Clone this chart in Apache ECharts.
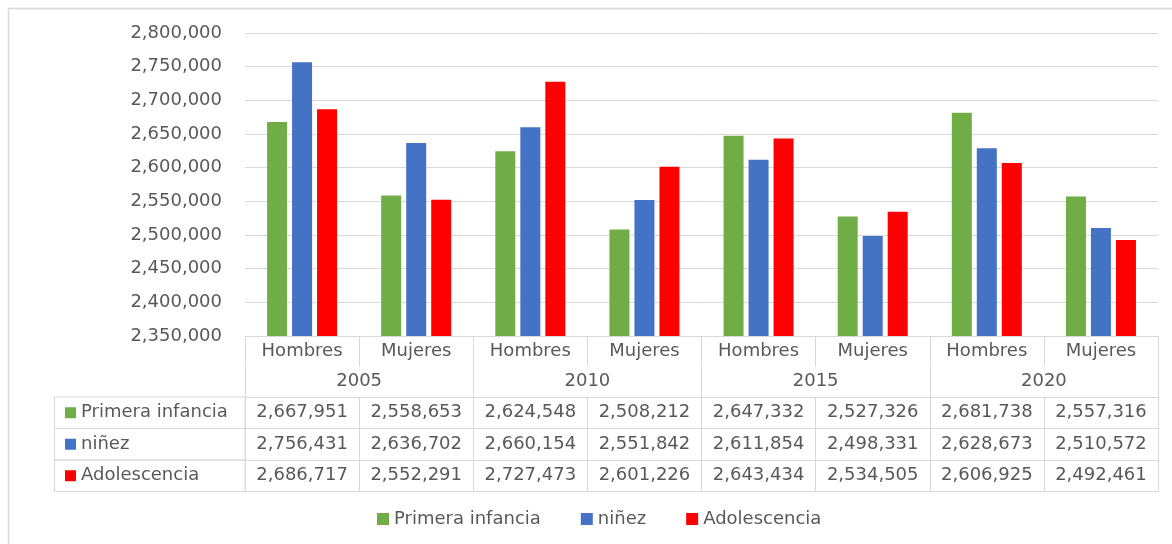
<!DOCTYPE html>
<html>
<head>
<meta charset="utf-8">
<script src="https://cdn.jsdelivr.net/npm/echarts@6/dist/echarts.min.js"></script>
<style>
  html, body { margin: 0; padding: 0; background: #fff; }
  #chart { width: 1172px; height: 544px; }
</style>
</head>
<body>
<div id="chart"></div>
<script>
// data
const sexes = ['Hombres', 'Mujeres', 'Hombres', 'Mujeres', 'Hombres', 'Mujeres', 'Hombres', 'Mujeres'];
const years = ['2005', '2010', '2015', '2020'];
const seriesNames = ['Primera infancia', 'niñez', 'Adolescencia'];
const primeraInfancia = [2667951, 2558653, 2624548, 2508212, 2647332, 2527326, 2681738, 2557316];
const ninez = [2756431, 2636702, 2660154, 2551842, 2611854, 2498331, 2628673, 2510572];
const adolescencia = [2686717, 2552291, 2727473, 2601226, 2643434, 2534505, 2606925, 2492461];
const yMin = 2350000;
const yMax = 2800000;
const yStep = 50000;

const colors = ['#70ad47', '#4472c4', '#ff0000'];
const seriesData = [primeraInfancia, ninez, adolescencia];
const textColor = '#595959';
const lineColor = '#d9d9d9';
const font = 'DejaVu Sans';

// table layout (under the plot)
const tableTop = 336;
const headH = 30.5;
const rowH = 31.5;
const fmt = v => v.toLocaleString('en-US');

const chart = echarts.init(document.getElementById('chart'));

const xAxes = [
  {
    // Hombres / Mujeres row
    type: 'category', data: sexes, position: 'bottom', offset: 0,
    axisLine: { show: true, lineStyle: { color: lineColor } },
    axisTick: { show: true, interval: 0, length: headH, lineStyle: { color: lineColor } },
    axisLabel: { interval: 0, color: textColor, fontSize: 18, fontFamily: font, margin: 15, verticalAlign: 'middle' }
  },
  {
    // years row
    type: 'category', data: years, position: 'bottom', offset: headH,
    axisLine: { show: false },
    axisTick: { show: true, interval: 0, length: headH, lineStyle: { color: lineColor } },
    axisLabel: { interval: 0, color: textColor, fontSize: 18, fontFamily: font, margin: 15, verticalAlign: 'middle' }
  }
];
seriesData.forEach((vals, i) => {
  xAxes.push({
    type: 'category', data: vals.map(fmt), position: 'bottom', offset: 2 * headH + i * rowH,
    axisLine: { show: true, lineStyle: { color: lineColor } },
    axisTick: { show: true, interval: 0, length: rowH, lineStyle: { color: lineColor } },
    axisLabel: { interval: 0, color: textColor, fontSize: 18, fontFamily: font, margin: rowH / 2, verticalAlign: 'middle' }
  });
});
xAxes.push({
  // closing line of the table
  type: 'category', data: sexes, position: 'bottom', offset: 2 * headH + 3 * rowH,
  axisLine: { show: true, lineStyle: { color: lineColor } },
  axisTick: { show: false },
  axisLabel: { show: false }
});

const leftCells = seriesNames.map((n, i) => ({
  type: 'rect',
  shape: { x: 54.5, y: tableTop + 2 * headH + i * rowH, width: 190.5, height: rowH },
  style: { fill: 'none', stroke: lineColor, lineWidth: 1 }
}));

const option = {
  animation: false,
  textStyle: { fontFamily: font },
  grid: { left: 245, right: 14, top: 33, bottom: 544 - tableTop, outerBoundsMode: 'none' },
  legend: [
    {
      data: seriesNames, orient: 'vertical', left: 65, top: tableTop + 2 * headH,
      padding: 0, itemGap: 0, itemWidth: 11, itemHeight: 11, icon: 'rect',
      textStyle: { color: textColor, fontSize: 18, fontFamily: font, lineHeight: rowH }
    },
    {
      data: seriesNames, orient: 'horizontal', left: 377, top: 510,
      padding: 0, itemGap: 40, itemWidth: 12, itemHeight: 12, icon: 'rect',
      textStyle: { color: textColor, fontSize: 18, fontFamily: font }
    }
  ],
  graphic: [
    {
      type: 'rect', silent: true,
      shape: { x: 8.5, y: 8.5, width: 1200, height: 600 },
      style: { fill: 'none', stroke: lineColor, lineWidth: 1.5 }
    }
  ].concat(leftCells),
  xAxis: xAxes,
  yAxis: {
    type: 'value', min: yMin, max: yMax, interval: yStep,
    axisLine: { show: false },
    axisTick: { show: false },
    axisLabel: { color: textColor, fontSize: 18, fontFamily: font, margin: 23, formatter: v => fmt(v) },
    splitLine: { lineStyle: { color: lineColor, width: 1 } }
  },
  series: seriesNames.map((name, i) => ({
    name: name,
    type: 'bar',
    xAxisIndex: 0,
    data: seriesData[i],
    barWidth: 20,
    barGap: '25%',
    itemStyle: { color: colors[i] }
  }))
};

chart.setOption(option);
</script>
</body>
</html>
